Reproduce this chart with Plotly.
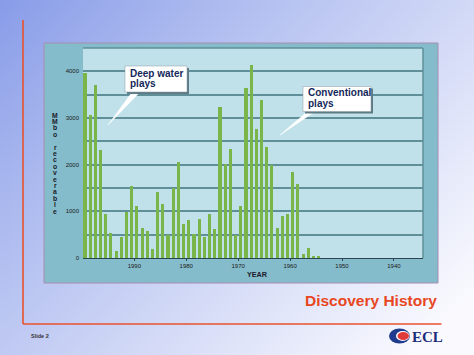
import base64
import struct
import zlib
import plotly.graph_objects as go

# ---------------- data ----------------
years = list(range(1999, 1953, -1))
values = [3970, 3075, 3705, 2320, 940, 545, 150, 460, 980, 1550,
          1105, 640, 580, 185, 1405, 1160, 495, 1510, 2050, 725,
          815, 505, 835, 445, 950, 620, 3240, 2015, 2340, 495,
          1105, 3650, 4130, 2775, 3385, 2380, 2000, 640, 905, 940,
          1835, 1590, 90, 215, 35, 25]
tick_years = [1990, 1980, 1970, 1960, 1950, 1940]
tick_labels = [str(y) for y in tick_years]
y_ticks = [0, 1000, 2000, 3000, 4000]
y_title = "MMbo recoverable"
x_title = "YEAR"
chart_title = "Discovery History"
callout_1 = ["Deep water", "plays"]
callout_2 = ["Conventional", "plays"]
footer = "Slide 2"
logo_text = "ECL"

# ---------------- geometry ----------------
W, H = 474, 355
L, R, T, B = 83, 51, 48, 97
PW, PH = W - L - R, H - T - B


def fx(px):
    return (px - L) / PW


def fy(py):
    return (H - B - py) / PH


# ---------------- gradient background (png) ----------------
def make_png(w, h):
    blue = (136, 156, 232)
    white = (250, 250, 254)
    rows = []
    for j in range(h):
        row = bytearray(b"\x00")
        for i in range(w):
            t = 0.62 * i / (w - 1) + 0.45 * j / (h - 1)
            t = max(0.0, min(1.0, t))
            t = t ** 0.9
            row += bytes(int(round(blue[k] + (white[k] - blue[k]) * t)) for k in range(3))
        rows.append(bytes(row))
    raw = b"".join(rows)

    def chunk(tag, data):
        return (struct.pack(">I", len(data)) + tag + data
                + struct.pack(">I", zlib.crc32(tag + data) & 0xFFFFFFFF))

    png = (b"\x89PNG\r\n\x1a\n"
           + chunk(b"IHDR", struct.pack(">IIBBBBB", w, h, 8, 2, 0, 0, 0))
           + chunk(b"IDAT", zlib.compress(raw, 9))
           + chunk(b"IEND", b""))
    return "data:image/png;base64," + base64.b64encode(png).decode()


bg_src = make_png(119, 89)

fig = go.Figure()
fig.add_trace(go.Bar(
    x=years, y=values, width=0.6,
    marker=dict(color="#79b548", line=dict(width=0)),
    hoverinfo="x+y",
))

GRID = "#5f8f99"
shapes = [
    # panel
    dict(type="rect", xref="paper", yref="paper", layer="below",
         x0=fx(44), x1=fx(438), y0=fy(283), y1=fy(43),
         fillcolor="#85bccb", line=dict(color="#a88cb2", width=1)),
    # plot area
    dict(type="rect", xref="paper", yref="paper", layer="below",
         x0=0, x1=1, y0=0, y1=1, fillcolor="#c0e1e9", line=dict(width=0)),
    # red frame
    dict(type="line", xref="paper", yref="paper", layer="below",
         x0=fx(23), x1=fx(23), y0=fy(20), y1=fy(324),
         line=dict(color="#e9522c", width=1.6)),
    dict(type="line", xref="paper", yref="paper", layer="below",
         x0=fx(23), x1=fx(441.5), y0=fy(324), y1=fy(324),
         line=dict(color="#e9522c", width=1.6)),
    # plot area border top/right
    dict(type="line", xref="paper", yref="paper",
         x0=0, x1=1, y0=1, y1=1, line=dict(color=GRID, width=1.5)),
    dict(type="line", xref="paper", yref="paper",
         x0=1, x1=1, y0=0, y1=1, line=dict(color=GRID, width=1.5)),
]


def callout(x0, y0, x1, y1, tip, base):
    out = []
    (bx0, bx1, by) = base
    path = "M {} {} L {} {} L {} {} Z".format(fx(bx0), fy(by), fx(bx1), fy(by), fx(tip[0]), fy(tip[1]))
    out.append(dict(type="path", xref="paper", yref="paper", path=path,
                    fillcolor="white", line=dict(color="white", width=0.5)))
    out.append(dict(type="rect", xref="paper", yref="paper",
                    x0=fx(x0 + 2), x1=fx(x1 + 2), y0=fy(y1 + 2), y1=fy(y0 + 2),
                    fillcolor="#5d7a85", line=dict(width=0)))
    out.append(dict(type="rect", xref="paper", yref="paper",
                    x0=fx(x0), x1=fx(x1), y0=fy(y1), y1=fy(y0),
                    fillcolor="white", line=dict(color="#8a9aa0", width=0.5)))
    return out


shapes += callout(125, 66, 187, 92, (108, 125), (133, 141, 91))
shapes += callout(303, 86.5, 371, 111.5, (280, 135), (308, 316, 111))

# ECL logo
shapes += [
    dict(type="circle", xref="paper", yref="paper",
         x0=fx(389), x1=fx(410), y0=fy(343.5), y1=fy(328.5),
         fillcolor="#1f3b8e", line=dict(width=0)),
    dict(type="circle", xref="paper", yref="paper",
         x0=fx(396), x1=fx(409.5), y0=fy(341), y1=fy(331),
         fillcolor="white", line=dict(width=0)),
    dict(type="circle", xref="paper", yref="paper",
         x0=fx(397.5), x1=fx(409), y0=fy(340), y1=fy(332),
         fillcolor="#e03a3a", line=dict(width=0)),
]

TXT = "#14285a"
ann = []
for i, line in enumerate(callout_1):
    ann.append(dict(x=fx(127.5), y=fy(73 + 11 * i), xref="paper", yref="paper",
                    text="<b>" + line + "</b>", showarrow=False, xanchor="left", yanchor="middle",
                    font=dict(family="Liberation Sans, Arial", size=10, color=TXT)))
for i, line in enumerate(callout_2):
    ann.append(dict(x=fx(306), y=fy(92.7 + 11 * i), xref="paper", yref="paper",
                    text="<b>" + line + "</b>", showarrow=False, xanchor="left", yanchor="middle",
                    font=dict(family="Liberation Sans, Arial", size=10, color=TXT)))

# vertical stacked y title
for i, ch in enumerate(y_title):
    if ch == " ":
        continue
    ann.append(dict(x=fx(55), y=fy(115 + 6.4 * i), xref="paper", yref="paper",
                    text="<b>" + ch + "</b>", showarrow=False, xanchor="center", yanchor="middle",
                    font=dict(family="Liberation Sans, Arial", size=6.8, color="#1a1a2a")))

ann.append(dict(x=fx(257.5), y=fy(274.5), xref="paper", yref="paper",
                text="<b>" + x_title + "</b>", showarrow=False, xanchor="center", yanchor="middle",
                font=dict(family="Liberation Sans, Arial", size=7.2, color="#1a1a2a")))
ann.append(dict(x=fx(438.5), y=fy(300.7), xref="paper", yref="paper",
                text="<b>" + chart_title + "</b>", showarrow=False, xanchor="right", yanchor="middle",
                font=dict(family="Liberation Sans, Arial", size=15.5, color="#e8461f")))
ann.append(dict(x=fx(29), y=fy(335.5), xref="paper", yref="paper",
                text="<b>" + footer + "</b>", showarrow=False, xanchor="left", yanchor="middle",
                font=dict(family="Liberation Sans, Arial", size=5.5, color="#333333")))
ann.append(dict(x=fx(410), y=fy(336.5), xref="paper", yref="paper",
                text="<b>" + logo_text + "</b>", showarrow=False, xanchor="left", yanchor="middle",
                font=dict(family="Liberation Serif, Times New Roman", size=15, color="#1b2f7a")))

fig.update_layout(
    width=W, height=H,
    margin=dict(l=L, r=R, t=T, b=B, pad=0),
    paper_bgcolor="white",
    plot_bgcolor="rgba(0,0,0,0)",
    showlegend=False,
    bargap=0,
    shapes=shapes,
    annotations=ann,
    images=[dict(source=bg_src, xref="paper", yref="paper",
                 x=fx(0), y=fy(0), sizex=W / PW, sizey=H / PH,
                 xanchor="left", yanchor="top", sizing="stretch", layer="below")],
    xaxis=dict(
        range=[1999.38, 1933.9],
        tickvals=[y - 0.5 for y in tick_years],
        ticktext=tick_labels,
        ticks="outside", ticklen=2, tickwidth=1, tickcolor="#2d4650",
        showgrid=False, zeroline=False,
        showline=True, linecolor="#2d4650", linewidth=1,
        tickfont=dict(family="Liberation Sans, Arial", size=6, color="#1a1a1a"),
    ),
    yaxis=dict(
        range=[0, 4500],
        tickvals=y_ticks,
        ticks="", showline=False, zeroline=False,
        showgrid=True, gridcolor=GRID, gridwidth=1.5,
        minor=dict(dtick=500, tick0=0, showgrid=True, gridcolor=GRID, gridwidth=1.5),
        ticklabelstandoff=3,
        tickfont=dict(family="Liberation Sans, Arial", size=6, color="#1a1a1a"),
    ),
)

fig.write_html("out.html")
